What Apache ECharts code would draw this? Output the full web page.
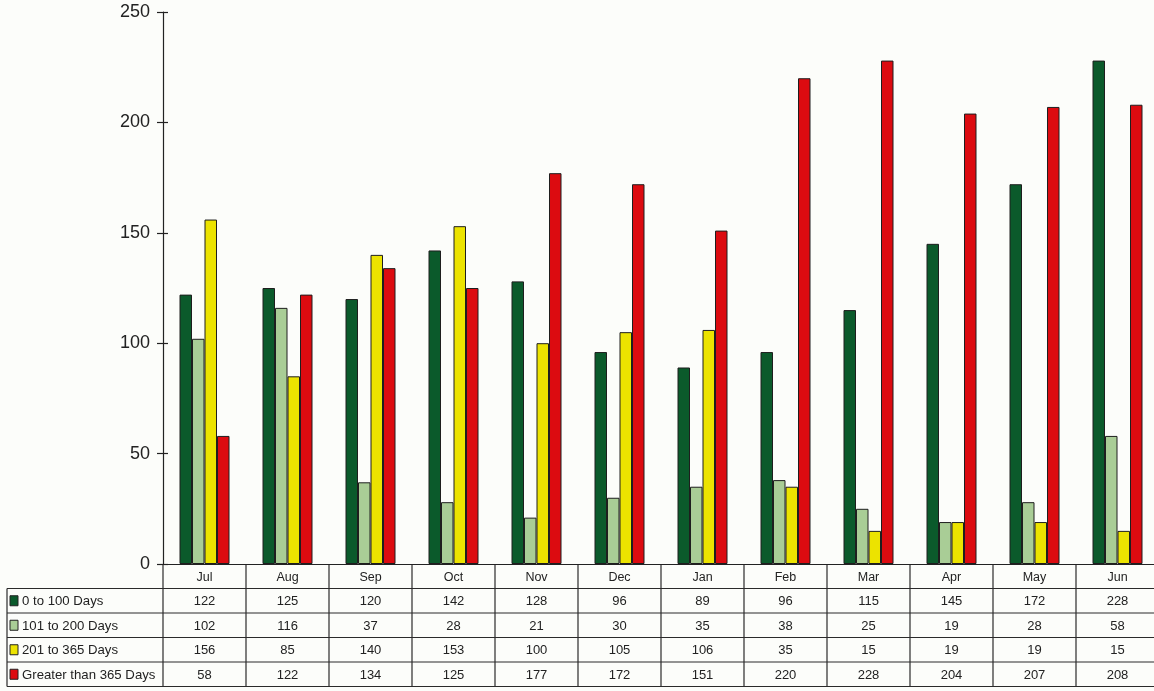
<!DOCTYPE html>
<html><head><meta charset="utf-8">
<script src="https://cdn.jsdelivr.net/npm/echarts@6/dist/echarts.min.js"></script>
<style>html,body{margin:0;padding:0;background:#fcfdfa}#c{width:1154px;height:691px}</style>
</head><body><div id="c"></div>
<script>
const months = ['Jul','Aug','Sep','Oct','Nov','Dec','Jan','Feb','Mar','Apr','May','Jun'];
const seriesNames = ['0 to 100 Days','101 to 200 Days','201 to 365 Days','Greater than 365 Days'];
const days0to100 = [122,125,120,142,128,96,89,96,115,145,172,228];
const days101to200 = [102,116,37,28,21,30,35,38,25,19,28,58];
const days201to365 = [156,85,140,153,100,105,106,35,15,19,19,15];
const daysOver365 = [58,122,134,125,177,172,151,220,228,204,207,208];
const yMin = 0, yMax = 250, yStep = 50;

const colors = ['#0b5a2b','#a9cd96','#ece300','#dc0b10'];
const allData = [days0to100, days101to200, days201to365, daysOver365];
const FONT = '"Liberation Sans", Arial, sans-serif';

const chart = echarts.init(document.getElementById('c'), null, {renderer:'canvas'});
const baseOption = {
  backgroundColor: '#fcfdfa',
  animation: false,
  grid: {left: 163, top: 12, width: 996, height: 552, containLabel: false, outerBoundsMode: 'none'},
  xAxis: {
    type: 'category', data: months, boundaryGap: true,
    axisLine: {show: true, lineStyle: {color: '#222', width: 1.2}},
    axisTick: {show: false},
    axisLabel: {fontFamily: FONT, fontSize: 12.5, color: '#222', margin: 7, interval: 0}
  },
  yAxis: [{
    type: 'value', min: yMin, max: yMax, interval: yStep,
    axisLine: {show: true, lineStyle: {color: '#222', width: 1.2}},
    axisTick: {show: true, length: 6, lineStyle: {color: '#222', width: 1.2}},
    axisLabel: {fontFamily: FONT, fontSize: 18, color: '#222', margin: 13},
    splitLine: {show: false}
  }, {
    type: 'value', min: yMin, max: yMax, interval: yStep, position: 'left',
    axisLine: {show: false},
    axisTick: {show: true, inside: true, length: 5, lineStyle: {color: '#222', width: 1.2}},
    axisLabel: {show: false},
    splitLine: {show: false}
  }],
  series: seriesNames.map((n, i) => ({
    name: n, type: 'bar', data: allData[i], yAxisIndex: 0,
    barWidth: 12.5, barGap: '0%',
    itemStyle: {color: colors[i], borderColor: '#1e1e1e', borderWidth: 1}
  }))
};
chart.setOption(baseOption);

// Build the data table below the axis from the axis scale
const c0 = chart.convertToPixel({xAxisIndex: 0}, 0);
const c1 = chart.convertToPixel({xAxisIndex: 0}, 1);
const bw = c1 - c0;
const colLeft = c0 - bw / 2;
const yTop = chart.convertToPixel({yAxisIndex: 0}, 0);
const rh = 24.5;
const tableLeft = 7;
const nRows = seriesNames.length;
const bottom = yTop + rh * (nRows + 1);
const tableRight = colLeft + bw * months.length;
const lineStyle = {stroke: '#2a2a2a', lineWidth: 1.2};
const g = [];
for (let i = 0; i <= months.length; i++) {
  const x = colLeft + bw * i;
  g.push({type: 'line', shape: {x1: x, y1: yTop, x2: x, y2: bottom}, style: lineStyle, silent: true});
}
g.push({type: 'line', shape: {x1: tableLeft, y1: yTop + rh, x2: tableLeft, y2: bottom}, style: lineStyle, silent: true});
for (let r = 1; r <= nRows + 1; r++) {
  const y = yTop + rh * r;
  g.push({type: 'line', shape: {x1: tableLeft, y1: y, x2: tableRight, y2: y}, style: lineStyle, silent: true});
}
for (let r = 0; r < nRows; r++) {
  const cy = yTop + rh * (r + 1) + rh / 2;
  g.push({type: 'rect', shape: {x: 10, y: cy - 5, width: 8, height: 10},
    style: {fill: colors[r], stroke: '#222', lineWidth: 1}, silent: true});
  g.push({type: 'text', x: 22, y: cy + 1, silent: true,
    style: {text: seriesNames[r], font: '13.2px ' + FONT, fill: '#222', align: 'left', verticalAlign: 'middle'}});
  for (let i = 0; i < months.length; i++) {
    const cx = chart.convertToPixel({xAxisIndex: 0}, i);
    g.push({type: 'text', x: cx, y: cy + 1, silent: true,
      style: {text: String(allData[r][i]), font: '13px ' + FONT, fill: '#222', align: 'center', verticalAlign: 'middle'}});
  }
}
chart.setOption({graphic: g});
</script></body></html>
